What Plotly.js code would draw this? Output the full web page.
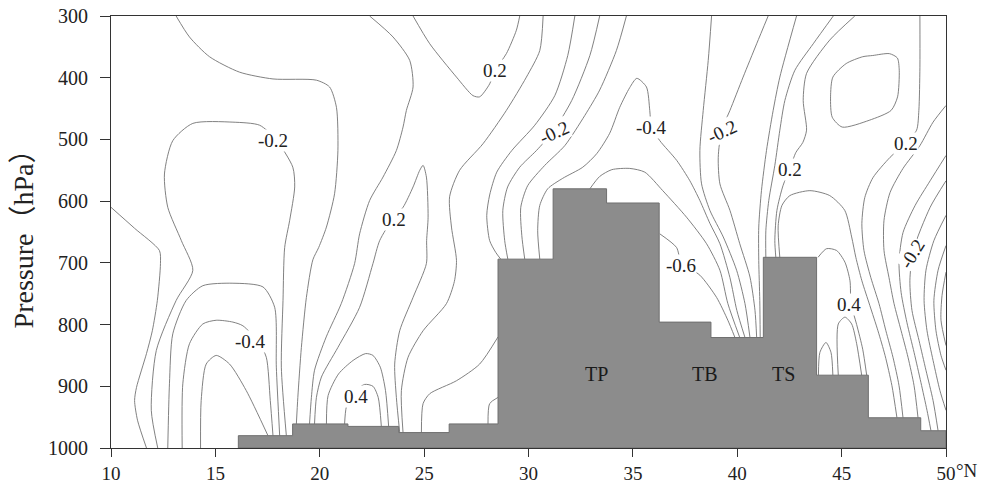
<!DOCTYPE html>
<html><head><meta charset="utf-8">
<script src="https://cdn.plot.ly/plotly-3.0.1.min.js"></script>
<style>html,body{margin:0;padding:0;background:#fff}#chart{width:988px;height:486px}</style>
</head><body><div id="chart"></div>
<script>
// ---- Terrain (step profile): start latitude of each step and its top pressure (hPa)
const terrainLat = [16.1, 18.7, 21.35, 23.78, 26.2, 28.54, 31.18, 33.74, 36.26, 38.74, 41.25, 43.8, 46.28, 48.79];
const terrainTop = [980, 961, 965, 975, 961, 694, 580, 603, 796, 821, 691, 882, 951, 972];

// ---- Contour isolines digitised as [latitude, pressure] pairs
const cA1 = [[10.0,610],[11.13,644],[12.32,680],[12.37,701],[12.22,761],[11.98,810],[11.70,847],[11.22,902],[11.13,923],[11.27,955],[11.70,1000]];
const cA2 = [[12.24,1000],[11.93,939],[12.17,842],[13.12,761],[13.92,712],[13.37,664],[12.72,610],[12.56,556],[12.96,502],[13.92,474],[15.84,472],[17.12,477],[17.9,500],[18.71,545],[18.80,577],[18.56,631],[18.32,675],[18.24,761],[18.16,869],[18.40,980]];
const cA3 = [[12.72,1000],[12.80,896],[12.96,815],[13.60,761],[14.40,737],[15.84,733],[17.28,739],[17.84,772],[17.92,869],[18.08,980]];
const cA4 = [[13.41,1000],[13.44,896],[13.76,831],[14.40,799],[15.04,793],[15.84,796],[16.32,802],[17.1,830],[17.44,853],[17.63,923],[17.76,980]];
const cA5 = [[14.29,1000],[14.32,923],[14.56,864],[15.04,850],[15.68,864],[16.48,907],[17.52,980]];
const cB1 = [[13.12,300],[13.76,334],[14.72,366],[16.16,391],[17.76,402],[19.84,404],[20.47,415],[20.80,448],[20.87,518],[20.71,588],[20.32,642],[19.95,675],[19.67,695],[19.36,756],[19.12,837],[18.95,918],[18.88,961]];
const cB2 = [[22.39,300],[23.51,334],[24.31,372],[24.47,415],[24.15,453],[23.99,480],[23.67,518],[23.03,561],[22.39,599],[21.91,653],[21.67,701],[21.03,766],[20.31,820],[19.75,874],[19.60,918],[19.51,961]];
const cB3 = [[19.75,961],[19.84,918],[20.08,885],[20.87,837],[21.91,772],[22.55,701],[22.87,664],[23.51,628],[23.99,610],[24.47,577],[24.79,550],[24.95,542],[25.11,561],[25.19,626],[25.12,664],[25.11,701],[24.47,756],[23.83,810],[23.59,864],[23.67,918],[23.83,975]];
const cB4 = [[20.32,961],[20.40,915],[20.90,880],[21.60,858],[22.20,847],[22.55,850],[22.90,869],[23.15,907],[23.30,965]];
const cB5 = [[21.19,961],[21.27,934],[21.55,912],[22.15,897],[22.55,900],[22.80,918],[22.95,965]];
const cB6 = [[30.70,300],[30.54,356],[29.90,399],[28.94,453],[27.82,507],[26.70,550],[26.22,593],[26.31,642],[26.55,696],[26.45,730],[26.07,766],[24.95,810],[24.23,853],[23.91,907],[23.99,975]];
const cB7 = [[28.54,820],[27.66,864],[26.55,891],[25.27,912],[24.95,928],[24.87,975]];
const cB8 = [[28.54,918],[28.14,928],[28.06,961]];
const cB9 = [[24.47,300],[25.27,345],[26.55,399],[27.34,429],[27.66,431],[28.14,410],[28.38,389],[28.94,361],[29.42,323],[29.58,300]];
const cC1 = [[32.22,300],[31.88,364],[31.26,429],[30.30,477],[29.20,518],[28.48,553],[28.14,590],[28.00,623],[28.14,664],[28.43,683],[28.67,694]];
const cC2 = [[33.41,300],[32.94,364],[32.07,437],[31.16,488],[30.38,518],[29.58,545],[29.00,577],[28.77,615],[28.86,664],[29.01,694]];
const cC3 = [[34.69,300],[34.21,356],[33.41,420],[32.70,461],[31.74,510],[30.78,542],[29.96,575],[29.63,610],[29.68,656],[29.82,694]];
const cC4 = [[30.54,694],[30.44,648],[30.54,607],[30.92,580],[31.64,563],[32.60,545],[33.27,523],[33.89,490],[34.37,448],[34.85,416],[35.19,401],[35.65,415],[35.81,453],[35.89,480],[36.29,502],[37.10,534],[37.73,567],[38.21,599],[38.69,636],[39.17,669],[39.65,724],[39.98,777],[40.37,821]];
const cC5 = [[32.94,580],[33.41,560],[33.99,549],[34.85,547],[35.57,553],[36.43,583],[37.57,626],[38.53,669],[39.17,712],[39.55,766],[40.12,821]];
const cC6 = [[36.29,653],[37.09,675],[37.33,700],[38.21,720],[39.01,756],[39.55,793],[39.89,821]];
const cD1 = [[38.77,300],[38.61,372],[38.37,453],[38.21,518],[38.29,572],[38.69,615],[39.33,658],[39.97,712],[40.37,766],[40.61,821]];
const cD2 = [[41.48,300],[40.93,345],[40.28,399],[39.65,453],[39.25,485],[39.09,529],[39.17,572],[39.65,615],[40.12,669],[40.61,723],[40.85,777],[40.93,821]];
const cD3 = [[42.84,300],[42.04,399],[41.72,453],[41.40,518],[41.16,583],[41.03,642],[41.03,696],[41.08,761],[41.10,821]];
const cD4 = [[44.60,300],[43.64,345],[42.76,388],[42.28,437],[42.04,485],[41.80,542],[41.51,599],[41.37,648],[41.37,692]];
const cD5 = [[45.63,300],[44.43,339],[43.32,393],[43.16,437],[43.32,485],[43.14,505],[42.81,521],[42.52,547],[42.19,575],[41.90,615],[41.80,664],[41.85,692]];
const cE1 = [[42.04,692],[41.96,640],[42.14,607],[42.52,591],[43.48,583],[44.43,591],[45.15,615],[45.48,658],[45.68,691],[45.97,729],[46.35,769],[46.74,810],[47.08,850],[47.41,899],[47.65,951]];
const cE2 = [[43.87,691],[44.28,677],[44.76,680],[45.16,699],[45.40,729],[45.45,766],[45.72,800],[46.01,840],[46.2,882]];
const cE3 = [[44.84,882],[44.84,799],[45.16,788],[45.48,799],[45.72,831],[45.96,882]];
const cE4 = [[43.89,882],[43.96,845],[44.25,829],[44.49,845],[44.58,882]];
const cE5 = [[44.58,399],[45.22,377],[46.01,366],[46.49,364],[47.29,361],[47.67,368],[47.76,388],[47.68,431],[47.37,453],[46.32,469],[45.03,480],[44.55,464],[44.47,431],[44.58,399]];
const cF1 = [[48.75,300],[48.75,383],[48.70,453],[48.59,485],[48.03,507],[47.32,529],[46.50,562],[46.11,594],[45.97,636],[46.07,680],[46.40,724],[46.79,766],[47.12,810],[47.46,853],[47.75,899],[47.94,951]];
const cF2 = [[50.0,445],[49.38,472],[48.75,510],[47.94,547],[47.32,586],[47.03,631],[47.03,680],[47.27,724],[47.51,766],[47.85,810],[48.18,853],[48.47,899],[48.66,951]];
const cF3 = [[50.0,526],[49.24,567],[48.52,607],[47.94,651],[47.75,699],[47.85,748],[48.13,797],[48.47,845],[48.80,894],[49.09,939],[49.28,972]];
const cF4 = [[50.0,567],[49.24,610],[48.43,680],[48.27,729],[48.37,777],[48.71,826],[49.04,874],[49.38,923],[49.62,972]];
const cF5 = [[50.0,623],[49.42,664],[49.04,712],[48.95,761],[49.09,810],[49.38,858],[49.71,907],[50.0,939]];
const cF6 = [[50.0,672],[49.62,712],[49.42,761],[49.52,810],[49.76,850],[50.0,874]];
const cF7 = [[50.0,715],[49.81,753],[49.76,793],[50.0,834]];

// ---- Contour labels
const labelText  = ['-0.2','-0.4','0.2','0.2','0.4','-0.2','-0.4','-0.2','-0.6','0.2','0.2','-0.2','0.4'];
const labelLat   = [17.74, 16.69, 28.41, 23.54, 21.72, 31.21, 35.88, 39.26, 37.30, 42.52, 48.06, 48.39, 45.35];
const labelP     = [502, 828, 389, 630, 916, 488, 480, 487, 704, 549, 507, 685, 767];
const labelAngle = [0, 0, 0, 0, 0, -25, 0, -25, 0, 0, 0, -58, 0];

// ---- Region labels
const regionText = ['TP','TB','TS'];
const regionLat  = [33.25, 38.45, 42.21];
const regionP    = [880, 880, 880];

// ---- Axis ticks
const xTicks = [10,15,20,25,30,35,40,45,50];
const xTickText = ['10','15','20','25','30','35','40','45','50'];
const yTicks = [300,400,500,600,700,800,900,1000];

const lines = [cA1,cA2,cA3,cA4,cA5,cB1,cB2,cB3,cB4,cB5,cB6,cB7,cB8,cB9,cC1,cC2,cC3,cC4,cC5,cC6,cD1,cD2,cD3,cD4,cD5,cE1,cE2,cE3,cE4,cE5,cF1,cF2,cF3,cF4,cF5,cF6,cF7];

const traces = lines.map(l => ({
  type:'scatter', mode:'lines', x:l.map(p=>p[0]), y:l.map(p=>p[1]),
  line:{color:'#737373', width:0.9, shape:'spline', smoothing:0.7},
  hoverinfo:'skip', showlegend:false
}));

// Terrain polygon built from step arrays
const tx = [terrainLat[0]], ty = [1000];
for (let i=0;i<terrainLat.length;i++){
  const x0 = terrainLat[i], x1 = (i+1<terrainLat.length)? terrainLat[i+1] : 50;
  tx.push(x0, x1); ty.push(terrainTop[i], terrainTop[i]);
}
tx.push(50); ty.push(1000);
tx.push(terrainLat[0]); ty.push(1000);
traces.push({type:'scatter', mode:'lines', x:tx, y:ty, fill:'toself', fillcolor:'#8c8c8c',
  line:{color:'#6f6f6f', width:1}, hoverinfo:'skip', showlegend:false});

const serif = '"Liberation Serif", "Times New Roman", serif';
const annotations = labelText.map((t,i)=>({
  x:labelLat[i], y:labelP[i], xref:'x', yref:'y', text:t, showarrow:false,
  textangle:labelAngle[i], font:{family:serif, size:19, color:'#222'},
  bgcolor:'#ffffff', borderpad:0
}));
regionText.forEach((t,i)=>annotations.push({x:regionLat[i], y:regionP[i], xref:'x', yref:'y', text:t,
  showarrow:false, font:{family:serif, size:20, color:'#1a1a1a'}}));
annotations.push({x:50, y:-0.052, xref:'x', yref:'paper', text:'°N', showarrow:false, xanchor:'left', yanchor:'middle',
  xshift:8, font:{family:serif, size:19, color:'#222'}});

const layout = {
  width:988, height:486, margin:{l:111, r:42, t:16, b:38},
  paper_bgcolor:'#fff', plot_bgcolor:'#fff',
  xaxis:{range:[10,50], tickvals:xTicks, ticktext:xTickText, ticks:'outside', ticklen:8, tickwidth:1,
    tickcolor:'#333', showline:true, linecolor:'#333', linewidth:1, mirror:true, showgrid:false, zeroline:false,
    ticklabelstandoff:0,
    tickfont:{family:serif, size:19, color:'#222'}},
  yaxis:{range:[1000,300], tickvals:yTicks, ticks:'outside', ticklen:10, tickwidth:1, tickcolor:'#333',
    showline:true, linecolor:'#333', linewidth:1, mirror:true, showgrid:false, zeroline:false,
    ticklabelstandoff:8,
    tickfont:{family:serif, size:20, color:'#222'},
    title:{text:'Pressure（hPa）', font:{family:'"Liberation Serif", "Noto Sans CJK SC", serif', size:28, color:'#222'}, standoff:6}},
  annotations:annotations
};
Plotly.newPlot('chart', traces, layout, {staticPlot:true, displayModeBar:false});
</script></body></html>
